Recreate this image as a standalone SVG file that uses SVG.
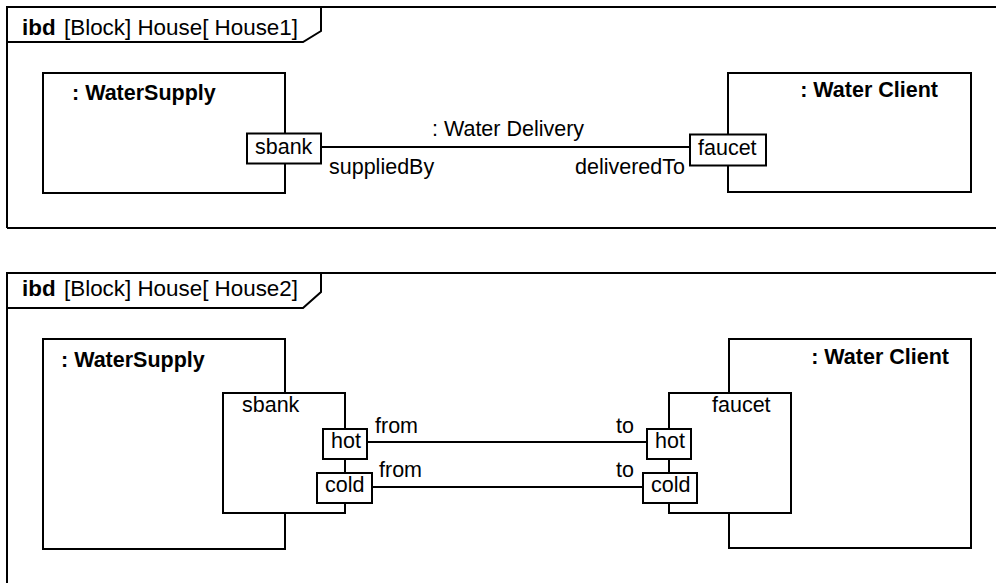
<svg xmlns="http://www.w3.org/2000/svg" width="996" height="583" viewBox="0 0 996 583">
<style>
  text { font-family: "Liberation Sans", Arial, sans-serif; font-size: 21.5px; fill: #000; }
  .b { font-weight: bold; }
  .t { font-size: 22.4px; }
  .ln { fill: none; stroke: #000; stroke-width: 2; }
  .box { fill: #fff; stroke: #000; stroke-width: 2; }
</style>
<rect x="0" y="0" width="996" height="583" fill="#fff"/>

<!-- Frame 1 -->
<g id="frame1">
  <path class="ln" d="M7,228 V7 H996 M996,228 H7"/>
  <path class="ln" d="M7,42 H303 L321,31 V7"/>
  <text x="22" y="35" class="b t">ibd</text>
  <text x="64" y="35" class="t">[Block] House[ House1]</text>
</g>

<g id="ws1">
  <rect class="box" x="43" y="73" width="242" height="120"/>
  <text x="72" y="100" class="b">: WaterSupply</text>
</g>
<g id="wc1">
  <rect class="box" x="728" y="73" width="243" height="119"/>
  <text x="938" y="97" class="b" text-anchor="end">: Water Client</text>
</g>

<g id="connectors1">
  <line class="ln" x1="321" y1="147" x2="690" y2="147"/>
  <text x="432" y="136">: Water Delivery</text>
  <text x="329" y="174">suppliedBy</text>
  <text x="685" y="174" text-anchor="end">deliveredTo</text>
</g>

<g id="sbank1">
  <rect class="box" x="247" y="133.5" width="74" height="30"/>
  <text x="255" y="154">sbank</text>
</g>
<g id="faucet1">
  <rect class="box" x="690" y="134.5" width="76" height="31"/>
  <text x="698" y="155">faucet</text>
</g>

<!-- Frame 2 -->
<g id="frame2">
  <path class="ln" d="M7,583 V273 H996"/>
  <path class="ln" d="M7,308 H303 L321,292 V273"/>
  <text x="22" y="296" class="b t">ibd</text>
  <text x="64" y="296" class="t">[Block] House[ House2]</text>
</g>

<g id="ws2">
  <rect class="box" x="43" y="339" width="242" height="210"/>
  <text x="61" y="367" class="b">: WaterSupply</text>
</g>
<g id="wc2">
  <rect class="box" x="729" y="339" width="242" height="209"/>
  <text x="949" y="364" class="b" text-anchor="end">: Water Client</text>
</g>

<g id="sbank2">
  <rect class="box" x="223" y="393" width="122" height="120"/>
  <text x="242" y="412">sbank</text>
</g>
<g id="faucet2">
  <rect class="box" x="669" y="393" width="122" height="120"/>
  <text x="712" y="412">faucet</text>
</g>

<g id="connectors2">
  <line class="ln" x1="367" y1="442" x2="647" y2="442"/>
  <line class="ln" x1="372" y1="487" x2="643" y2="487"/>
  <text x="375" y="433">from</text>
  <text x="379" y="477">from</text>
  <text x="616" y="433">to</text>
  <text x="616" y="477">to</text>
</g>

<g id="hotS">
  <rect class="box" x="323" y="429" width="44" height="30"/>
  <text x="331" y="448">hot</text>
</g>
<g id="coldS">
  <rect class="box" x="317" y="473" width="55" height="30"/>
  <text x="325" y="492">cold</text>
</g>
<g id="hotF">
  <rect class="box" x="647" y="429" width="44" height="30"/>
  <text x="655" y="448">hot</text>
</g>
<g id="coldF">
  <rect class="box" x="643" y="473" width="54" height="30"/>
  <text x="651" y="492">cold</text>
</g>
</svg>
